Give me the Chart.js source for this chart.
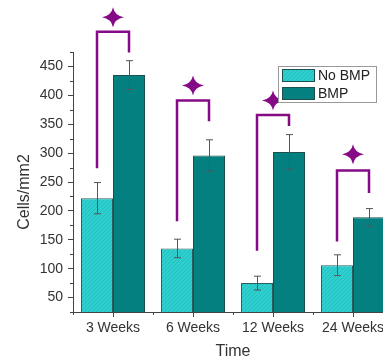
<!DOCTYPE html>
<html>
<head>
<meta charset="utf-8">
<script src="https://cdn.jsdelivr.net/npm/chart.js@4.4.0/dist/chart.umd.min.js"></script>
<style>
  html, body { margin: 0; padding: 0; background: #fff; overflow: hidden; }
  #wrap { width: 383px; height: 358px; overflow: hidden; }
</style>
</head>
<body>
<div id="wrap"><canvas id="bar-chart" width="400" height="358"></canvas></div>
<script>
// chart data
var categories = ['3 Weeks', '6 Weeks', '12 Weeks', '24 Weeks'];
var noBmp = [222, 135, 75, 106];
var noBmpErr = [27, 16, 12, 18];
var bmp = [435, 296, 302, 189];
var bmpErr = [25, 27, 30, 15];
var yTicks = [50, 100, 150, 200, 250, 300, 350, 400, 450];
// significance brackets (in Cells/mm2 units)
var bracketTop = [510, 391, 366, 270];
var bracketLeftEnd = [274, 182, 131, 147];
var bracketRightEnd = [474, 355, 347, 231];
var starLevel = [535, 417, 391, 298];

Chart.defaults.font.family = "'Liberation Sans', Arial, sans-serif";
Chart.defaults.color = '#333';

function hatch() {
  var c = document.createElement('canvas');
  c.width = 4; c.height = 4;
  var g = c.getContext('2d');
  g.fillStyle = '#2ECFCF';
  g.fillRect(0, 0, 4, 4);
  g.strokeStyle = 'rgba(0, 110, 110, 0.18)';
  g.lineWidth = 1;
  g.beginPath();
  g.moveTo(0, 4); g.lineTo(4, 0);
  g.moveTo(-1, 1); g.lineTo(1, -1);
  g.moveTo(3, 5); g.lineTo(5, 3);
  g.stroke();
  return g.createPattern(c, 'repeat');
}

var ctx = document.getElementById('bar-chart').getContext('2d');
var cyanFill = hatch();
var tealFill = '#058080';

var extras = {
  id: 'extras',
  afterDraw: function (chart) {
    var c = chart.ctx;
    var x = chart.scales.x, y = chart.scales.y;
    var area = chart.chartArea;
    c.save();

    // minor ticks
    c.strokeStyle = '#444';
    c.lineWidth = 1;
    c.beginPath();
    for (var v = 25; v <= 475; v += 50) {
      var py = Math.round(y.getPixelForValue(v)) + 0.5;
      c.moveTo(area.left - 3, py); c.lineTo(area.left, py);
    }
    for (var i = 0; i <= categories.length; i++) {
      var px = Math.round(area.left + i * (area.right - area.left) / categories.length) + 0.5;
      c.moveTo(px, area.bottom); c.lineTo(px, area.bottom + 3);
    }
    c.stroke();

    // error bars
    var sets = [[noBmp, noBmpErr], [bmp, bmpErr]];
    c.strokeStyle = '#555';
    c.lineWidth = 1;
    sets.forEach(function (s, d) {
      chart.getDatasetMeta(d).data.forEach(function (bar, k) {
        var bx = Math.round(bar.x) + 0.5;
        var top = y.getPixelForValue(s[0][k] + s[1][k]);
        var bot = y.getPixelForValue(s[0][k] - s[1][k]);
        c.beginPath();
        c.moveTo(bx, top); c.lineTo(bx, bot);
        c.moveTo(bx - 3.5, top); c.lineTo(bx + 3.5, top);
        c.moveTo(bx - 3.5, bot); c.lineTo(bx + 3.5, bot);
        c.stroke();
      });
    });

    // brackets and stars
    var m0 = chart.getDatasetMeta(0).data, m1 = chart.getDatasetMeta(1).data;
    c.strokeStyle = '#850A85';
    c.fillStyle = '#850A85';
    c.lineWidth = 2.5;
    c.lineJoin = 'miter';
    categories.forEach(function (cat, k) {
      var xl = m0[k].x, xr = m1[k].x;
      var yt = y.getPixelForValue(bracketTop[k]);
      c.beginPath();
      c.moveTo(xl, y.getPixelForValue(bracketLeftEnd[k]));
      c.lineTo(xl, yt);
      c.lineTo(xr, yt);
      c.lineTo(xr, y.getPixelForValue(bracketRightEnd[k]));
      c.stroke();

      var sx = x.getPixelForValue(k), sy = y.getPixelForValue(starLevel[k]);
      var rx = 11, ry = 10, r = 1.6;
      c.beginPath();
      c.moveTo(sx, sy - ry);
      c.quadraticCurveTo(sx + r, sy - r, sx + rx, sy);
      c.quadraticCurveTo(sx + r, sy + r, sx, sy + ry);
      c.quadraticCurveTo(sx - r, sy + r, sx - rx, sy);
      c.quadraticCurveTo(sx - r, sy - r, sx, sy - ry);
      c.fill();
    });

    // legend
    var lx = area.right - 115, ly = area.top + 14;
    c.fillStyle = '#fff';
    c.fillRect(lx, ly, 98, 36);
    c.strokeStyle = '#999';
    c.lineWidth = 1;
    c.strokeRect(lx + 0.5, ly + 0.5, 98, 36);
    var fills = [cyanFill, tealFill];
    chart.data.datasets.forEach(function (ds, d) {
      var top = ly + 3 + d * 18;
      c.fillStyle = fills[d];
      c.fillRect(lx + 4, top, 33, 13);
      c.strokeStyle = '#1d4f4f';
      c.strokeRect(lx + 4.5, top + 0.5, 32, 12);
      c.fillStyle = '#222';
      c.font = "14px 'Liberation Sans', Arial, sans-serif";
      c.textAlign = 'left';
      c.textBaseline = 'middle';
      c.fillText(ds.label, lx + 40, top + 7);
    });

    // y axis title
    c.translate(25, 192);
    c.rotate(-Math.PI / 2);
    c.fillStyle = '#333';
    c.font = "16px 'Liberation Sans', Arial, sans-serif";
    c.textAlign = 'center';
    c.textBaseline = 'middle';
    c.fillText('Cells/mm2', 0, 0);
    c.restore();
  }
};

var chart = new Chart(ctx, {
  type: 'bar',
  data: {
    labels: categories,
    datasets: [{
      label: 'No BMP',
      data: noBmp,
      backgroundColor: cyanFill,
      borderColor: '#2a5f5f',
      borderWidth: 1
    }, {
      label: 'BMP',
      data: bmp,
      backgroundColor: tealFill,
      borderColor: '#1d4f4f',
      borderWidth: 1
    }]
  },
  options: {
    responsive: false,
    animation: false,
    layout: { padding: { top: 52, right: 7, left: 0, bottom: 0 } },
    plugins: { legend: { display: false }, tooltip: { enabled: false } },
    datasets: { bar: { categoryPercentage: 0.8, barPercentage: 1.0 } },
    scales: {
      x: {
        grid: { display: true, drawOnChartArea: false, offset: false, tickLength: 5, color: '#444' },
        border: { display: true, color: '#444', width: 1 },
        ticks: { font: { size: 14 }, color: '#333', padding: 3, maxRotation: 0, autoSkip: false },
        title: { display: true, text: 'Time', font: { size: 16, lineHeight: 0.85 }, color: '#333', padding: 0 },
        afterFit: function (scale) { scale.height = 46; }
      },
      y: {
        min: 25,
        max: 475,
        grid: { display: true, drawOnChartArea: false, tickLength: 5, color: '#444' },
        border: { display: true, color: '#444', width: 1 },
        ticks: { font: { size: 14 }, color: '#333', padding: 5 },
        afterBuildTicks: function (scale) {
          scale.ticks = yTicks.map(function (v) { return { value: v }; });
        },
        afterFit: function (scale) { scale.width = 73; }
      }
    }
  },
  plugins: [extras]
});
</script>
</body>
</html>
